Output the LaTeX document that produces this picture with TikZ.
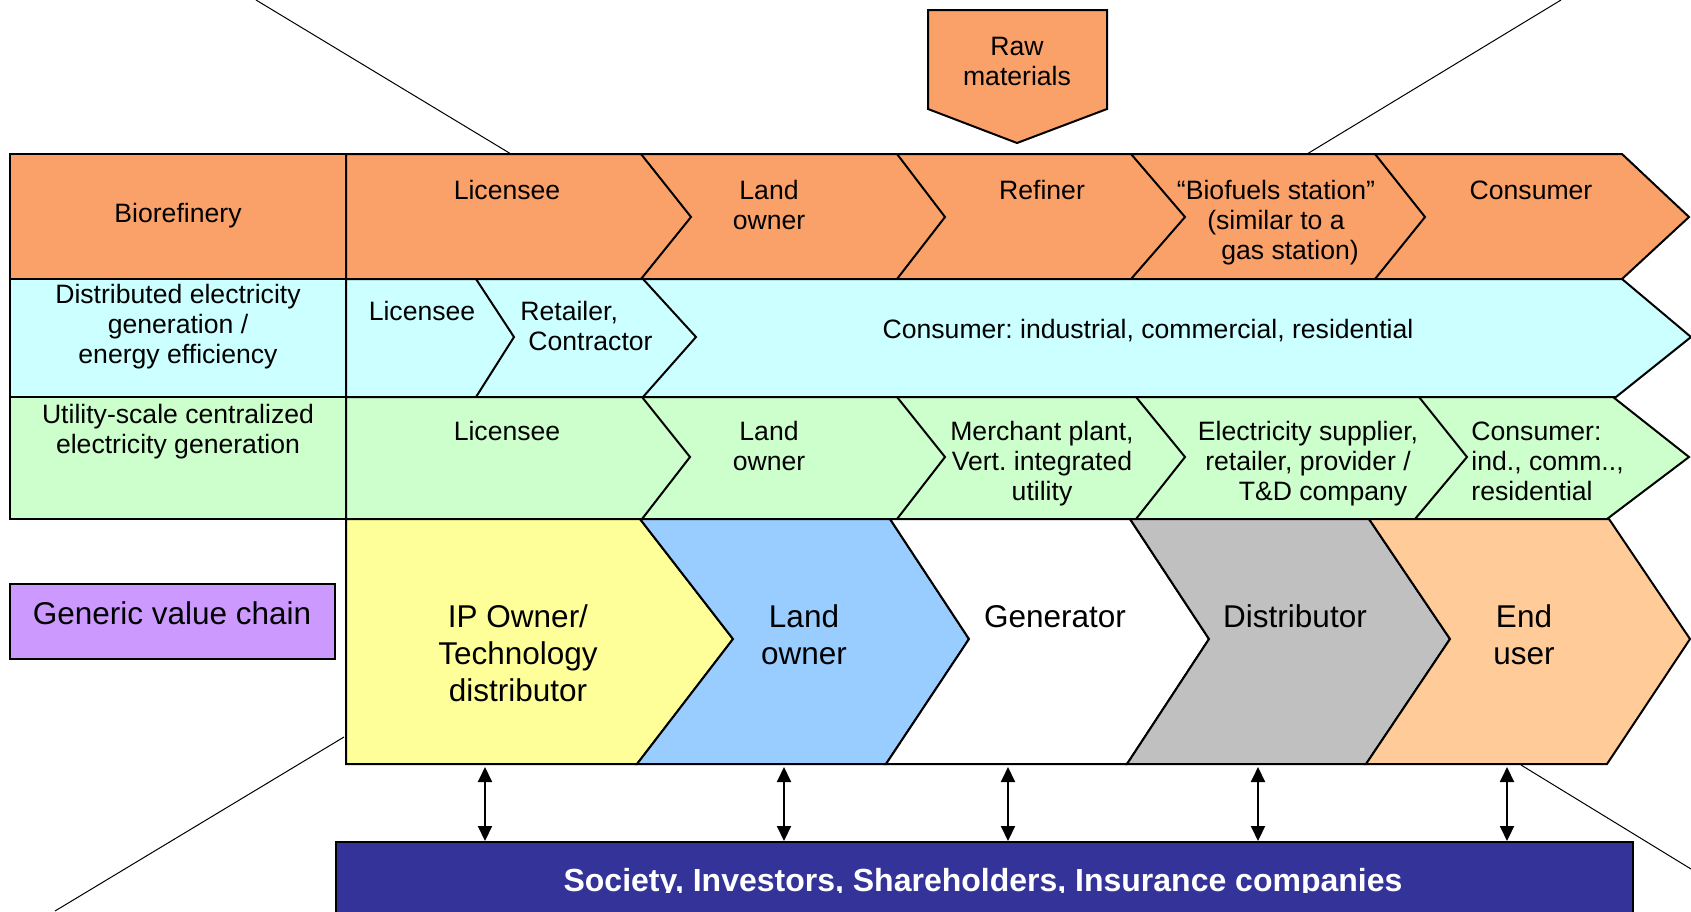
\documentclass[tikz,border=0pt]{standalone}
\usepackage{fontspec}
\setmainfont{Liberation Sans}
\usetikzlibrary{arrows.meta}
\frenchspacing

\definecolor{bioorange}{RGB}{250,161,106}
\definecolor{distcyan}{RGB}{204,255,255}
\definecolor{utilgreen}{RGB}{204,255,204}
\definecolor{ipyellow}{RGB}{255,255,153}
\definecolor{landblue}{RGB}{153,204,255}
\definecolor{distgray}{RGB}{192,192,192}
\definecolor{userpeach}{RGB}{255,204,153}
\definecolor{genpurple}{RGB}{204,153,255}
\definecolor{socnavy}{RGB}{51,51,153}

\newcommand{\rowfont}{\fontsize{13.3}{15}\selectfont}
\newcommand{\chainfont}{\fontsize{15.75}{18.5}\selectfont}

\begin{document}
\begin{tikzpicture}[
  x=0.5pt, y=-0.5pt,
  outline/.style={draw, line width=1pt},
  lbl/.style={font=\rowfont, align=center, inner sep=0pt, anchor=base},
  lbll/.style={font=\rowfont, align=left, inner sep=0pt, anchor=base west},
  biglbl/.style={font=\chainfont, align=center, inner sep=0pt, anchor=base},
  zoomline/.style={line width=0.5pt},
  biarrow/.style={{Triangle[length=7.5pt,width=7pt]}-{Triangle[length=7.5pt,width=7pt]}, line width=1pt},
  socbox/.style={draw, line width=1pt, fill=socnavy, anchor=north west, inner sep=0pt}
]
\useasboundingbox (0,0) rectangle (1691,911);

% Zoom lines
\draw[zoomline] (256,0) -- (511,154);
\draw[zoomline] (1561,0) -- (1307,154);
\draw[zoomline] (344,737) -- (55,911);
\draw[zoomline] (1521,765) -- (1691,869);

% Raw materials
\draw[outline, fill=bioorange] (928,10) -- (1107,10) -- (1107,109) -- (1017,143) -- (928,109) -- cycle;
\node[lbl] (raw) at (1017,85) {Raw\\materials};

% Row 1: biorefinery
\draw[outline, fill=bioorange] (10,154) rectangle (346,279);
\draw[outline, fill=bioorange] (346,154) -- (1622,154) -- (1689,217) -- (1622,279) -- (346,279) -- cycle;
\foreach \t/\p in {641/691, 897/945, 1131/1185, 1375/1425}
  \draw[outline] (\t,154) -- (\p,217) -- (\t,279);
\node[lbl] (bioref) at (178,222) {Biorefinery};
\node[lbl] (lic1) at (507,199) {Licensee};
\node[lbl] (land1) at (769,229) {Land\\owner};
\node[lbl] (ref1) at (1042,199) {Refiner};
\node[lbl] (station1) at (1276,259) {``Biofuels station''\\(similar to a\\\hspace*{14pt}gas station)};
\node[lbl] (cons1) at (1531,199) {Consumer};

% Row 2: distributed generation
\draw[outline, fill=distcyan] (10,279) rectangle (346,397);
\draw[outline, fill=distcyan] (346,279) -- (1622,279) -- (1691,337) -- (1616,397) -- (346,397) -- cycle;
\foreach \t/\p in {476/514, 643/696}
  \draw[outline] (\t,279) -- (\p,337) -- (\t,397);
\node[lbl] (distgen) at (178,363) {Distributed electricity\\generation /\\energy efficiency};
\node[lbl] (lic2) at (422,320) {Licensee};
\node[lbll] (retail2) at (520,350) {Retailer,\\\hspace*{4pt}Contractor};
\node[lbl] (cons2) at (1148,338) {Consumer: industrial, commercial, residential};

% Row 3: utility-scale generation
\draw[outline, fill=utilgreen] (10,397) rectangle (346,519);
\draw[outline, fill=utilgreen] (346,397) -- (1613,397) -- (1689,457) -- (1607,519) -- (346,519) -- cycle;
\foreach \t/\p/\b in {642/690/642, 897/945/897, 1136/1185/1136, 1419/1467/1415}
  \draw[outline] (\t,397) -- (\p,457) -- (\b,519);
\node[lbl] (utilgen) at (178,453) {Utility-scale centralized\\electricity generation};
\node[lbl] (lic3) at (507,440) {Licensee};
\node[lbl] (land3) at (769,470) {Land\\owner};
\node[lbl] (merch3) at (1042,500) {Merchant plant,\\Vert. integrated\\utility};
\node[lbl] (elec3) at (1308,500) {Electricity supplier,\\retailer, provider /\\\hspace*{15pt}T\&D company};
\node[lbll] (cons3) at (1471,500) {Consumer:\\ind., comm..,\\residential};

% Row 4: generic value chain
\draw[outline, fill=ipyellow] (346,519) -- (640,519) -- (733,639) -- (637,764) -- (346,764) -- cycle;
\foreach \lt/\lp/\lb/\rt/\rp/\rb/\col in {
    640/733/637/890/969/886/landblue,
    890/969/886/1130/1209/1127/white,
    1130/1209/1127/1369/1450/1366/distgray,
    1369/1450/1366/1609/1690/1607/userpeach}
  \draw[outline, fill=\col] (\lt,519) -- (\rt,519) -- (\rp,639) -- (\rb,764) -- (\lb,764) -- (\lp,639) -- cycle;
\draw[outline, fill=genpurple] (10,584) rectangle (335,659);
\node[biglbl] (generic) at (172,624) {Generic value chain};
\node[biglbl] (ipown) at (518,701) {IP Owner/\\Technology\\distributor};
\node[biglbl] (land4) at (804,664) {Land\\owner};
\node[biglbl] (gen4) at (1055,627) {Generator};
\node[biglbl] (distr4) at (1295,627) {Distributor};
\node[biglbl] (enduser) at (1524,664) {End\\user};

% Stakeholders
\node[socbox, minimum width=648.5pt, minimum height=50pt] (soc) at (335,841) {};
\begin{scope}
  \clip (335,841) rectangle (1632,892);
  \node[font=\fontsize{16}{19}\selectfont\bfseries, text=white, anchor=base, inner sep=0pt] (soctext) at (983,891)
    {Society, Investors, Shareholders, Insurance companies};
\end{scope}

% Arrows
\foreach \x [count=\i] in {485,784,1008,1258,1507} {
  \coordinate (link\i) at (\x,767);
  \draw[biarrow] (link\i) -- (link\i |- soc.north);
}

\end{tikzpicture}
\end{document}
